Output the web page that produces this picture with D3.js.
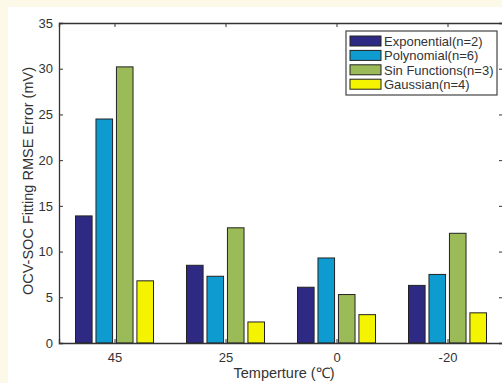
<!DOCTYPE html>
<html>
<head>
<meta charset="utf-8">
<script src="https://cdn.jsdelivr.net/npm/d3@7"></script>
<style>
  body { margin: 0; background: #fdf9e9; }
  svg { display: block; font-family: "Liberation Sans", Arial, sans-serif; }
</style>
</head>
<body>
<div id="chart"></div>
<script>
// data
var temps = ["45", "25", "0", "-20"];
var seriesNames = ["Exponential(n=2)", "Polynomial(n=6)", "Sin Functions(n=3)", "Gaussian(n=4)"];
var exponential = [13.9, 8.5, 6.1, 6.3];
var polynomial = [24.5, 7.3, 9.3, 7.5];
var sinFunctions = [30.2, 12.6, 5.3, 12.0];
var gaussian = [6.8, 2.3, 3.1, 3.3];
var yTicks = [0, 5, 10, 15, 20, 25, 30, 35];
var colors = ["#2e2a84", "#0e9bcf", "#9bbb59", "#f4f400"];

var seriesVals = [exponential, polynomial, sinFunctions, gaussian];
var rows = temps.map(function(t, i) {
  return { temp: t, vals: seriesVals.map(function(s) { return s[i]; }) };
});

var W = 502, H = 383;
var margin = { top: 23, right: -1, bottom: 40, left: 59 };
var width = W - margin.left - margin.right;
var height = H - margin.top - margin.bottom;

var svg = d3.select("#chart").append("svg")
  .attr("width", W)
  .attr("height", H);

// white paper area
svg.append("rect")
  .attr("x", 8).attr("y", 7)
  .attr("width", W).attr("height", H)
  .attr("fill", "#fff");

var g = svg.append("g")
  .attr("transform", "translate(" + margin.left + "," + margin.top + ")");

var x = d3.scalePoint().domain(temps).range([0, width]).padding(0.5);
var inner = d3.scaleBand().domain(d3.range(4)).range([-39, 39]).paddingInner(0.19);
var y = d3.scaleLinear().domain([0, 35]).range([height, 0]);

// bars
var groups = g.selectAll(".grp").data(rows)
  .enter().append("g")
  .attr("class", "grp")
  .attr("transform", function(d) { return "translate(" + x(d.temp) + ",0)"; });

groups.selectAll("rect")
  .data(function(d) { return d.vals; })
  .enter().append("rect")
  .attr("x", function(d, i) { return inner(i); })
  .attr("width", inner.bandwidth())
  .attr("y", function(d) { return y(d); })
  .attr("height", function(d) { return height - y(d); })
  .attr("fill", function(d, i) { return colors[i]; })
  .attr("stroke", "#222")
  .attr("stroke-width", 1);

// axes (matlab style, ticks inward, box on)
var axCol = "#333";
var yAxis = g.append("g").attr("class", "y axis")
  .call(d3.axisLeft(y).tickValues(yTicks).tickSize(-4).tickPadding(6));
var yAxisR = g.append("g").attr("transform", "translate(" + width + ",0)")
  .call(d3.axisRight(y).tickValues(yTicks).tickSize(-4).tickFormat(""));
var xAxis = g.append("g").attr("transform", "translate(0," + height + ")")
  .call(d3.axisBottom(x).tickSize(-4).tickPadding(10));
var xAxisT = g.append("g")
  .call(d3.axisTop(x).tickSize(-4).tickFormat(""));

g.selectAll(".domain").attr("stroke", axCol).attr("stroke-width", 1.3);
g.selectAll(".tick line").attr("stroke", axCol);
g.selectAll(".tick text").attr("fill", "#333").style("font-size", "13px");

// axis labels
g.append("text")
  .attr("transform", "rotate(-90)")
  .attr("x", -height / 2 + 2)
  .attr("y", -26)
  .attr("text-anchor", "middle")
  .attr("fill", "#333")
  .style("font-size", "14.5px")
  .text("OCV-SOC Fitting RMSE Error (mV)");

g.append("text")
  .attr("x", width / 2 + 3)
  .attr("y", height + 35)
  .attr("text-anchor", "middle")
  .attr("fill", "#333")
  .style("font-size", "14.5px")
  .text("Temperture (\u2103)");

// legend
var leg = svg.append("g").attr("transform", "translate(346,31)");
leg.append("rect")
  .attr("width", 151).attr("height", 64)
  .attr("fill", "#fff").attr("stroke", "#444").attr("stroke-width", 1.2);
var item = leg.selectAll(".item").data(seriesNames)
  .enter().append("g")
  .attr("transform", function(d, i) { return "translate(4," + (5 + i * 14.4) + ")"; });
item.append("rect")
  .attr("width", 31).attr("height", 10)
  .attr("fill", function(d, i) { return colors[i]; })
  .attr("stroke", "#222");
item.append("text")
  .attr("x", 34).attr("y", 5.5)
  .attr("dy", "0.35em")
  .attr("fill", "#333")
  .style("font-size", "13px")
  .text(function(d) { return d; });
</script>
</body>
</html>
